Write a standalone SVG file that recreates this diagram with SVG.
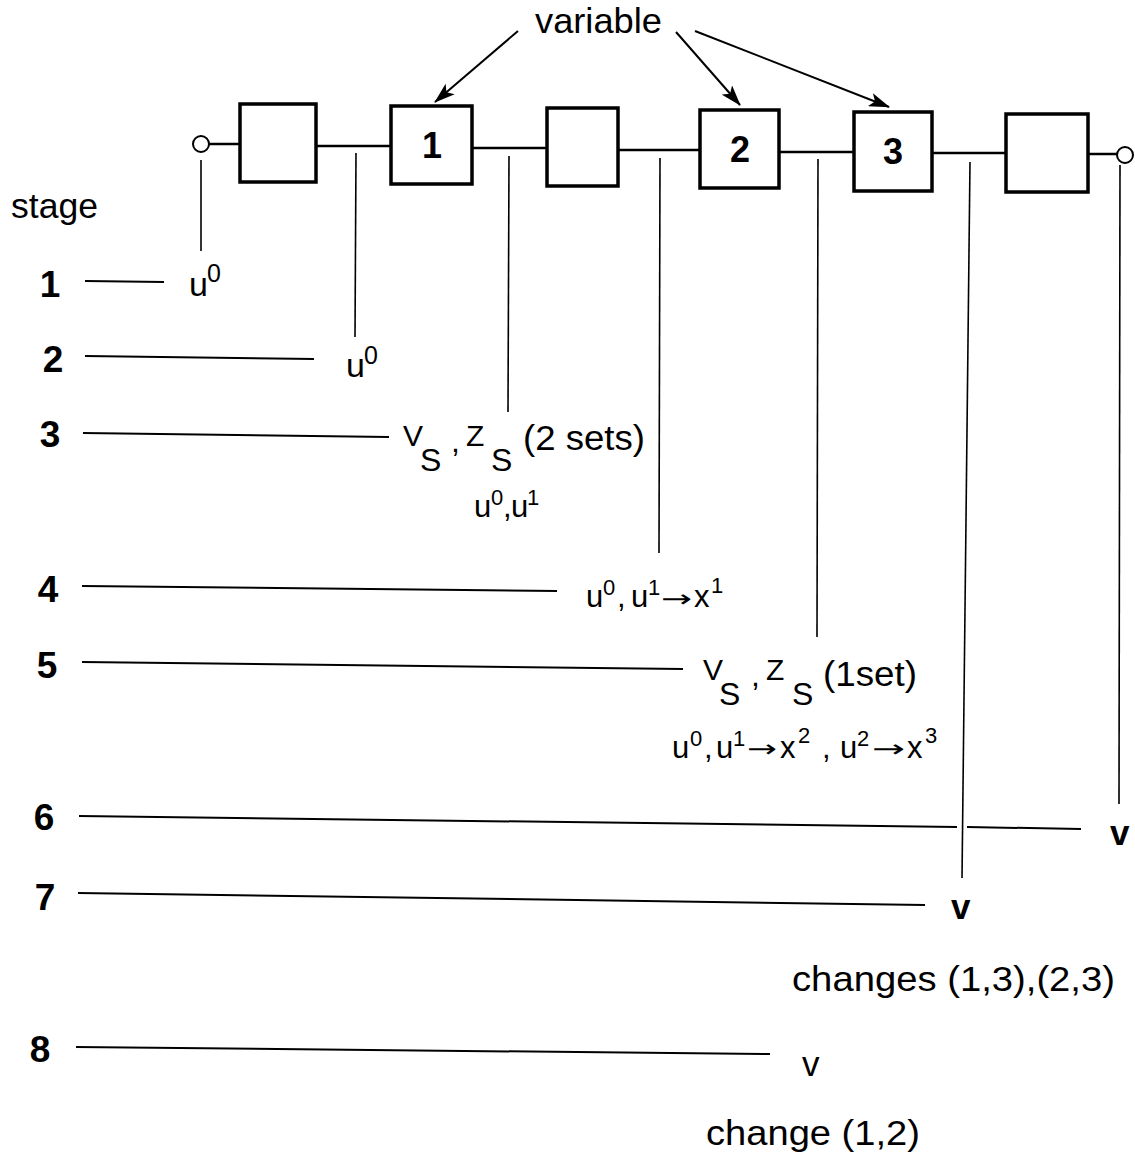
<svg xmlns="http://www.w3.org/2000/svg" width="1135" height="1157" viewBox="0 0 1135 1157">
<defs>
<marker id="ah" markerUnits="userSpaceOnUse" markerWidth="22" markerHeight="14" refX="20" refY="7" orient="auto"><path d="M0,0 L21,7 L0,14 L5,7 z" fill="#000"/></marker>
</defs>
<style>
text{font-family:"Liberation Sans",Arial,sans-serif;fill:#000}
.box{fill:#fff;stroke:#000;stroke-width:3.5}
.term{fill:#fff;stroke:#000;stroke-width:2}
.w{stroke:#000;stroke-width:2.5;fill:none}
.s{stroke:#000;stroke-width:2;fill:none}
.v{stroke:#000;stroke-width:1.6;fill:none}
.a{stroke:#000;stroke-width:2;fill:none;marker-end:url(#ah)}
.num{font-size:37px;font-weight:bold;text-anchor:middle}
.bn{font-size:36px;font-weight:bold;text-anchor:middle}
.lab{font-size:35px}
.u{font-size:34px}
.usup{font-size:25px}
.m{font-size:31px}
.msup{font-size:22px}
.big{font-size:32px}
.sm{font-size:30px}
.arr{font-family:"DejaVu Sans",sans-serif;font-size:24px}
</style>
<rect width="1135" height="1157" fill="#fff"/>

<g id="connectors">
<line class="w" x1="209" y1="144" x2="240" y2="144"/>
<line class="w" x1="316" y1="146" x2="391" y2="146"/>
<line class="w" x1="472" y1="148" x2="547" y2="148"/>
<line class="w" x1="618" y1="150" x2="700" y2="150"/>
<line class="w" x1="779" y1="152" x2="854" y2="152"/>
<line class="w" x1="932" y1="153" x2="1006" y2="153"/>
<line class="w" x1="1088" y1="154" x2="1117" y2="154"/>
<line class="a" x1="518" y1="31" x2="435" y2="102"/>
<line class="a" x1="676" y1="32" x2="740" y2="105"/>
<line class="a" x1="695" y1="31" x2="889" y2="107"/>
<line class="v" x1="201" y1="160" x2="201" y2="251"/>
<line class="v" x1="356" y1="153" x2="355" y2="337"/>
<line class="v" x1="509" y1="156" x2="508" y2="412"/>
<line class="v" x1="660" y1="158" x2="659" y2="553"/>
<line class="v" x1="818" y1="159" x2="817" y2="637"/>
<line class="v" x1="970" y1="162" x2="962" y2="878"/>
<line class="v" x1="1120" y1="165" x2="1119" y2="804"/>
<line class="s" x1="85" y1="281" x2="164" y2="282"/>
<line class="s" x1="85" y1="356" x2="314" y2="359"/>
<line class="s" x1="83" y1="433" x2="389" y2="437"/>
<line class="s" x1="82" y1="586" x2="557" y2="591"/>
<line class="s" x1="82" y1="662" x2="683" y2="669"/>
<line class="s" x1="79" y1="816" x2="957" y2="827"/>
<line class="s" x1="967" y1="827" x2="1081" y2="829"/>
<line class="s" x1="78" y1="893" x2="925" y2="905"/>
<line class="s" x1="76" y1="1047" x2="770" y2="1054"/>
</g>

<g id="in-terminal"><circle class="term" cx="201" cy="144" r="8"/></g>
<g id="out-terminal"><circle class="term" cx="1125" cy="155" r="8"/></g>
<g id="block-a"><rect class="box" x="240" y="104" width="76" height="78"/></g>
<g id="block-1"><rect class="box" x="391" y="106" width="81" height="78"/><text class="bn" x="432" y="158">1</text></g>
<g id="block-c"><rect class="box" x="547" y="108" width="71" height="78"/></g>
<g id="block-2"><rect class="box" x="700" y="110" width="79" height="78"/><text class="bn" x="740" y="162">2</text></g>
<g id="block-3"><rect class="box" x="854" y="112" width="78" height="79"/><text class="bn" x="893" y="164">3</text></g>
<g id="block-d"><rect class="box" x="1006" y="114" width="82" height="78"/></g>

<g id="variable-label"><text class="lab" x="535" y="33" font-size="36" textLength="127" lengthAdjust="spacingAndGlyphs">variable</text></g>
<g id="stage-label"><text class="lab" x="11" y="218" textLength="87" lengthAdjust="spacingAndGlyphs">stage</text></g>

<g id="stage-numbers">
<text class="num" x="50" y="297">1</text>
<text class="num" x="53" y="372">2</text>
<text class="num" x="50" y="447">3</text>
<text class="num" x="48" y="602">4</text>
<text class="num" x="47" y="678">5</text>
<text class="num" x="44" y="830">6</text>
<text class="num" x="45" y="910">7</text>
<text class="num" x="40" y="1062">8</text>
</g>

<g id="stage1-text"><text class="u"><tspan x="189" y="296">u</tspan><tspan class="usup" x="207" y="282">0</tspan></text></g>
<g id="stage2-text"><text class="u"><tspan x="346" y="377">u</tspan><tspan class="usup" x="364" y="364">0</tspan></text></g>

<g id="stage3-text">
<text><tspan class="sm" x="403" y="446">V</tspan><tspan class="big" x="420" y="471">S</tspan><tspan class="big" x="451" y="452">,</tspan><tspan class="sm" x="466" y="446">Z</tspan><tspan class="big" x="491" y="471">S</tspan></text>
<text class="lab" x="523" y="450" font-size="33" textLength="122" lengthAdjust="spacingAndGlyphs">(2 sets)</text>
<text class="m"><tspan x="474" y="517">u</tspan><tspan class="msup" x="491" y="505">0</tspan><tspan x="503" y="517">,</tspan><tspan x="511" y="517">u</tspan><tspan class="msup" x="527" y="505">1</tspan></text>
</g>

<g id="stage4-text">
<text class="m"><tspan x="586" y="607">u</tspan><tspan class="msup" x="603" y="595">0</tspan><tspan x="617" y="607">,</tspan><tspan x="631" y="607">u</tspan><tspan class="msup" x="648" y="595">1</tspan></text>
<text class="arr" x="661" y="607" textLength="31" lengthAdjust="spacingAndGlyphs">→</text>
<text class="m"><tspan x="694" y="607">x</tspan><tspan class="msup" x="711" y="593">1</tspan></text>
</g>

<g id="stage5-text">
<text><tspan class="sm" x="703" y="680">V</tspan><tspan class="big" x="719" y="705">S</tspan><tspan class="big" x="751" y="686">,</tspan><tspan class="sm" x="766" y="680">Z</tspan><tspan class="big" x="792" y="705">S</tspan></text>
<text class="lab" x="823" y="686" font-size="33" textLength="94" lengthAdjust="spacingAndGlyphs">(1set)</text>
<text class="m"><tspan x="672" y="758">u</tspan><tspan class="msup" x="690" y="746">0</tspan><tspan x="704" y="758">,</tspan><tspan x="716" y="758">u</tspan><tspan class="msup" x="733" y="746">1</tspan></text>
<text class="arr" x="747" y="757" textLength="30" lengthAdjust="spacingAndGlyphs">→</text>
<text class="m"><tspan x="780" y="758">x</tspan><tspan class="msup" x="798" y="743">2</tspan><tspan x="822" y="758">,</tspan><tspan x="840" y="758">u</tspan><tspan class="msup" x="857" y="746">2</tspan></text>
<text class="arr" x="872" y="757" textLength="33" lengthAdjust="spacingAndGlyphs">→</text>
<text class="m"><tspan x="907" y="758">x</tspan><tspan class="msup" x="925" y="743">3</tspan></text>
</g>

<g id="stage6-text"><text class="lab" x="1110" y="845" font-weight="bold" font-size="32">v</text></g>
<g id="stage7-text">
<text class="lab" x="951" y="919" font-weight="bold" font-size="32">v</text>
<text class="lab" x="792" y="991" textLength="323" lengthAdjust="spacingAndGlyphs">changes (1,3),(2,3)</text>
</g>
<g id="stage8-text">
<text class="lab" x="802" y="1076" font-size="30">v</text>
<text class="lab" x="706" y="1145" textLength="214" lengthAdjust="spacingAndGlyphs">change (1,2)</text>
</g>
</svg>
